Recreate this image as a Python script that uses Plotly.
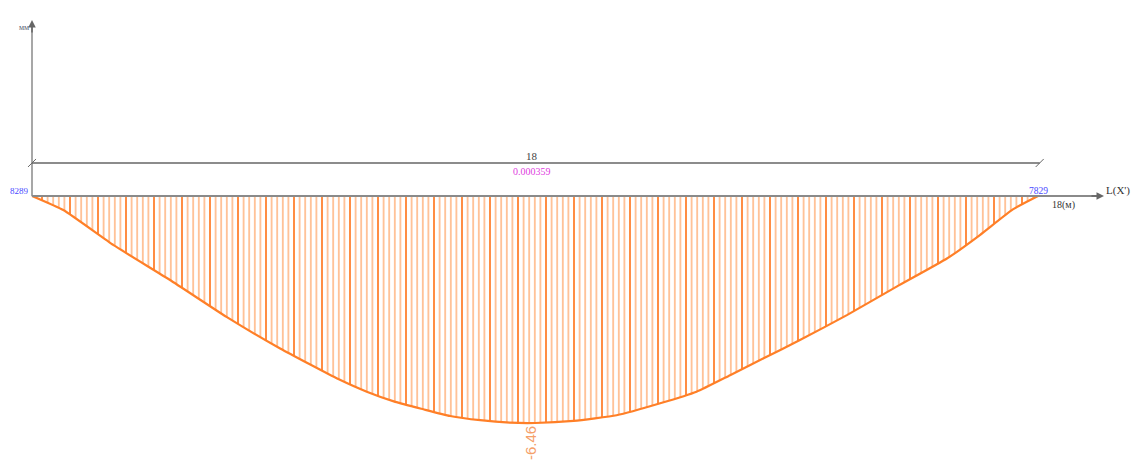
import plotly.graph_objects as go

# Deflection diagram along an 18 m member (values in mm)
span_m = 18
x_m = [0, 0.56, 1.46, 2.47, 3.48, 4.44, 4.97, 5.48, 5.99, 6.50, 7.00, 7.48, 8.02,
       8.55, 9.0, 9.69, 10.46, 11.24, 11.89, 12.49, 13.09, 13.74, 14.58, 15.47,
       16.37, 16.96, 17.55, 18]
defl_mm = [0, -0.40, -1.40, -2.39, -3.44, -4.34, -4.79, -5.21, -5.57, -5.86, -6.07,
           -6.26, -6.38, -6.45, -6.46, -6.40, -6.24, -5.90, -5.57, -5.10, -4.62,
           -4.10, -3.39, -2.58, -1.78, -1.11, -0.38, 0]
start_node = "8289"
end_node = "7829"
span_label = "18"
ratio_label = "0.000359"
max_label = "-6.46"
dim_level = 0.94  # height of the dimension line above the axis (mm units)

W, H = 1136, 473
x_range = [-0.5726, 19.753]
y_range = [-7.883, 5.578]
sx = W / (x_range[1] - x_range[0])   # px per m
sy = H / (y_range[1] - y_range[0])   # px per mm

ORANGE = "#ff7f27"
LIGHT = "#ffbb8c"
DARK = "#ff8233"
GRAY = "#8a8a8a"
SERIF = "Liberation Serif"
SHAPE = dict(shape="spline", smoothing=0.45)

fig = go.Figure()

# fine hatching
fig.add_trace(go.Scatter(
    x=x_m, y=defl_mm, mode="lines", line=dict(width=0, **SHAPE), fill="tozeroy",
    fillcolor="rgba(0,0,0,0)",
    fillpattern=dict(shape="|", size=5.6, solidity=0.3, fgcolor=LIGHT,
                     bgcolor="rgba(0,0,0,0)", fillmode="replace"),
    hoverinfo="skip", showlegend=False))
# every fifth hatch line is darker
fig.add_trace(go.Scatter(
    x=x_m, y=defl_mm, mode="lines", line=dict(width=0, **SHAPE), fill="tozeroy",
    fillcolor="rgba(0,0,0,0)",
    fillpattern=dict(shape="|", size=28, solidity=0.06, fgcolor=DARK,
                     bgcolor="rgba(0,0,0,0)", fillmode="replace"),
    hoverinfo="skip", showlegend=False))
# deflected shape
fig.add_trace(go.Scatter(
    x=x_m, y=defl_mm, mode="lines", line=dict(color=ORANGE, width=2.2, **SHAPE),
    showlegend=False))

shapes = []
# horizontal reference axis through the member
shapes.append(dict(type="line", x0=0, x1=(1098 - 32) / sx, y0=0, y1=0,
                   line=dict(color=GRAY, width=2)))
# vertical axis
shapes.append(dict(type="line", x0=0, x1=0, y0=0, y1=170 / sy,
                   line=dict(color=GRAY, width=1.5)))
# dimension line with end slashes
shapes.append(dict(type="line", x0=0, x1=span_m + 0.03, y0=dim_level, y1=dim_level,
                   line=dict(color="#666666", width=1.5)))
for xe in (0, span_m + 0.03):
    shapes.append(dict(type="line", x0=xe - 4 / sx, x1=xe + 4 / sx,
                       y0=dim_level - 4 / sy, y1=dim_level + 4 / sy,
                       line=dict(color="#666666", width=1)))

annotations = []
# arrowheads of the axes
annotations.append(dict(x=(1104 - 32) / sx, y=0, ax=(1090 - 32) / sx, ay=0,
                        xref="x", yref="y", axref="x", ayref="y", text="",
                        showarrow=True, arrowhead=2, arrowsize=1, arrowwidth=1.5,
                        arrowcolor="#666666"))
annotations.append(dict(x=0, y=176 / sy, ax=0, ay=162 / sy,
                        xref="x", yref="y", axref="x", ayref="y", text="",
                        showarrow=True, arrowhead=2, arrowsize=1, arrowwidth=1.5,
                        arrowcolor="#666666"))

def label(text, x, y, size, color, family=SERIF, **kw):
    annotations.append(dict(text=text, x=x, y=y, xref="x", yref="y",
                            showarrow=False, font=dict(size=size, color=color,
                                                       family=family), **kw))

label("мм", 0, 169 / sy, 8, "#556070", xanchor="right", yanchor="middle", xshift=-1)
label("L(X')", (1104 - 32) / sx, 0, 11, "#333333", xanchor="left", yanchor="middle",
      yshift=6)
label("18(м)", span_m, 0, 10, "#333333", xanchor="left", yanchor="top",
      xshift=12, yshift=-1)
label(start_node, 0, 0, 9, "#4a4aff", xanchor="right", yanchor="bottom",
      xshift=-1, yshift=-2)
label(end_node, span_m, 0, 9.5, "#4a4aff", xanchor="center", yanchor="bottom",
      yshift=-2)
label(span_label, span_m / 2, dim_level, 11, "#444444", xanchor="center",
      yanchor="bottom", xshift=-3, yshift=-1)
label(ratio_label, span_m / 2, dim_level, 10, "#e040e0", xanchor="center",
      yanchor="top", xshift=-3, yshift=-1)
i_min = defl_mm.index(min(defl_mm))
label(max_label, x_m[i_min], defl_mm[i_min], 15, "#f5a06a",
      family="Liberation Sans", textangle=-90, xanchor="center", yanchor="top",
      xshift=-5, yshift=-1)

fig.update_layout(
    width=W, height=H, autosize=False,
    margin=dict(l=0, r=0, t=0, b=0),
    paper_bgcolor="white", plot_bgcolor="white",
    xaxis=dict(range=x_range, visible=False, fixedrange=True),
    yaxis=dict(range=y_range, visible=False, fixedrange=True),
    shapes=shapes, annotations=annotations,
)

fig.write_html("out.html")
